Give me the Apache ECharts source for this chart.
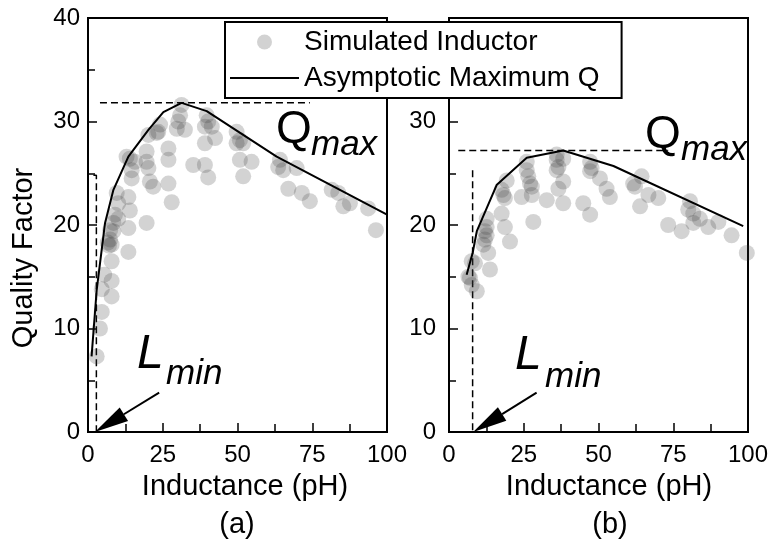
<!DOCTYPE html>
<html>
<head>
<meta charset="utf-8">
<script src="https://cdn.jsdelivr.net/npm/echarts@6/dist/echarts.min.js"></script>
<style>
  html, body { margin: 0; padding: 0; background: #fff; }
  #chart { width: 772px; height: 543px; }
</style>
</head>
<body>
<div id="chart"></div>
<script>
// Axis ranges / tick labels
const inductanceTicks = [0, 25, 50, 75, 100];
const qualityTicks = [0, 10, 20, 30, 40];

// (a) simulated inductors: [inductance pH, quality factor]
const simulatedA = [
  [2.9, 7.3], [4.0, 10.0], [4.6, 11.6], [4.6, 13.8], [7.9, 13.1], [5.4, 15.2],
  [7.9, 14.6], [7.9, 16.5], [6.6, 18.3], [7.0, 18.0], [7.4, 18.6], [7.9, 18.1],
  [7.4, 19.5], [8.5, 19.4], [8.5, 20.2], [9.0, 21.0], [10.1, 20.6], [10.1, 22.1],
  [9.6, 23.1], [13.5, 17.4], [13.5, 19.7], [14.0, 21.4], [13.5, 22.7], [14.6, 24.5],
  [14.6, 25.3], [14.0, 26.4], [15.7, 26.1], [12.9, 26.6], [19.6, 20.2], [19.6, 26.1],
  [20.2, 25.5], [20.7, 24.2], [21.8, 23.7], [19.6, 27.1], [20.2, 28.7], [23.0, 28.9],
  [23.5, 29.0], [24.1, 29.7], [26.9, 27.4], [26.9, 26.3], [26.9, 24.0], [28.0, 22.2],
  [31.3, 31.6], [30.8, 30.6], [30.2, 30.0], [29.7, 29.3], [32.4, 29.2], [35.2, 25.8],
  [39.1, 25.8], [40.2, 24.6], [39.7, 30.6], [40.2, 30.0], [39.1, 29.5], [41.4, 29.5],
  [42.5, 28.4], [39.1, 27.9], [49.7, 29.0], [50.8, 28.2], [51.9, 27.9], [49.7, 27.9],
  [50.8, 26.3], [54.7, 26.1], [51.9, 24.7], [64.2, 26.3], [63.6, 25.6], [65.3, 25.3],
  [69.8, 25.5], [67.0, 23.5], [71.5, 23.1], [74.2, 22.3], [81.5, 23.4], [83.7, 23.1],
  [85.4, 21.8], [87.6, 22.1], [93.7, 21.6], [96.3, 19.5], [100.3, 18.1]
];
// (a) asymptotic maximum Q envelope
const envelopeA = [
  [1.2, 7.3], [2.9, 13.7], [5.7, 20.2], [8.5, 23.4], [13.5, 26.6], [20.2, 29.2],
  [25.2, 30.9], [31.3, 31.8], [39.7, 31.0], [63.1, 26.6], [100, 21.0]
];
const qmaxA = 31.8;
const lminA = 2.8;

// (b) simulated inductors
const simulatedB = [
  [6.5, 15.0], [7.0, 14.9], [7.6, 16.5], [8.7, 16.3], [7.6, 14.2], [9.3, 13.6],
  [11.5, 18.1], [12.0, 18.6], [12.0, 19.4], [12.6, 19.0], [12.6, 19.8], [12.6, 20.6],
  [13.1, 17.3], [13.7, 15.7], [17.6, 21.1], [18.7, 19.8], [20.4, 18.4], [18.2, 22.9],
  [18.7, 22.6], [17.6, 23.4], [19.3, 24.3], [24.3, 22.7], [26.0, 26.1], [26.0, 25.3],
  [26.5, 24.7], [27.1, 24.0], [27.7, 23.7], [27.7, 22.9], [28.2, 20.3], [32.7, 22.4],
  [36.0, 26.8], [38.2, 26.4], [36.0, 26.3], [36.6, 25.6], [36.0, 25.3], [38.2, 24.2],
  [36.6, 23.5], [38.2, 22.1], [47.2, 26.1], [47.7, 25.5], [47.2, 25.2], [50.5, 24.5],
  [52.7, 23.5], [53.8, 22.7], [44.9, 22.1], [47.2, 21.0], [61.6, 24.0], [62.2, 23.7],
  [64.4, 24.7], [66.7, 22.9], [70.0, 22.6], [63.9, 21.8], [73.3, 20.0], [77.8, 19.4],
  [80.6, 22.3], [80.0, 21.5], [81.7, 21.1], [81.7, 20.2], [83.9, 20.6], [86.7, 19.8],
  [90.1, 20.3], [94.5, 19.0], [99.6, 17.3]
];
// (b) asymptotic maximum Q envelope
const envelopeB = [
  [5.9, 15.2], [7.9, 17.3], [9.3, 19.4], [16.0, 23.9], [26.0, 26.5], [38.2, 27.2],
  [55.0, 25.7], [98.4, 19.9]
];
const qmaxB = 27.2;
const lminB = 7.9;

// guide lines: [from, to] in data units
const qmaxGuideA = [[4.0, qmaxA], [74.2, qmaxA]];
const lminGuideA = [[1.8, 24.8], [lminA, 24.8], [lminA, 0]];
const qmaxGuideB = [[3.1, qmaxB], [73.3, qmaxB]];
const lminGuideB = [[lminB, 25.3], [lminB, 0]];
// arrows: [tailX, tailY, tipX, tipY]
const arrowA = [[23.8, 3.8, 2.3, 0]];
const arrowB = [[29.3, 3.8, 8.1, 0]];

const FONT = '"Liberation Sans", Arial, Helvetica, sans-serif';
const BLACK = '#000';
const DOT_COLOR = 'rgba(60,60,60,0.28)';

function renderArrow(params, api) {
  const tail = api.coord([api.value(0), api.value(1)]);
  const tip = api.coord([api.value(2), api.value(3)]);
  const dx = tip[0] - tail[0], dy = tip[1] - tail[1];
  const len = Math.hypot(dx, dy);
  const ux = dx / len, uy = dy / len;
  const headLen = 34, headHalf = 8;
  const base = [tip[0] - ux * headLen, tip[1] - uy * headLen];
  const nx = -uy, ny = ux;
  return {
    type: 'group',
    children: [
      { type: 'line', shape: { x1: tail[0], y1: tail[1], x2: base[0], y2: base[1] },
        style: { stroke: BLACK, lineWidth: 2 } },
      { type: 'polygon', shape: { points: [
          tip,
          [base[0] + nx * headHalf, base[1] + ny * headHalf],
          [base[0] - nx * headHalf, base[1] - ny * headHalf]
        ] }, style: { fill: BLACK } }
    ]
  };
}

function xAxisFor(idx, padLeft) {
  return {
    type: 'value', gridIndex: idx,
    min: inductanceTicks[0], max: inductanceTicks[inductanceTicks.length - 1],
    interval: inductanceTicks[1] - inductanceTicks[0],
    axisLine: { show: true, onZero: false, lineStyle: { color: BLACK, width: 2 } },
    axisTick: { show: true, inside: true, length: 9, lineStyle: { color: BLACK, width: 1.5 } },
    minorTick: { show: true, splitNumber: 2, length: 8, lineStyle: { color: BLACK, width: 1.5 } },
    splitLine: { show: false },
    axisLabel: { color: BLACK, fontSize: 24, fontFamily: FONT, margin: 11 },
    name: 'Inductance (pH)', nameLocation: 'middle', nameGap: 40,
    nameTextStyle: { color: BLACK, fontSize: 29, fontFamily: FONT, padding: [0, 0, 0, padLeft] }
  };
}

function yAxisFor(idx, margin, hideTop) {
  const top = qualityTicks[qualityTicks.length - 1];
  return {
    type: 'value', gridIndex: idx,
    min: qualityTicks[0], max: top,
    interval: qualityTicks[1] - qualityTicks[0],
    axisLine: { show: true, onZero: false, lineStyle: { color: BLACK, width: 2 } },
    axisTick: { show: true, inside: true, length: 9, lineStyle: { color: BLACK, width: 1.5 } },
    minorTick: { show: true, splitNumber: 2, length: 7, lineStyle: { color: BLACK, width: 1.5 } },
    splitLine: { show: false },
    axisLabel: {
      color: BLACK, fontSize: 24, fontFamily: FONT, margin: margin,
      formatter: v => (hideTop && v === top) ? '' : String(v)
    }
  };
}

function panelSeries(idx, sim, env, qGuide, lGuide, arrow) {
  const dashed = { color: BLACK, width: 1.5, type: [7, 4] };
  return [
    { type: 'line', name: 'qmax-guide-' + idx, xAxisIndex: idx, yAxisIndex: idx,
      data: qGuide, symbol: 'none', lineStyle: dashed, silent: true, z: 1 },
    { type: 'line', name: 'lmin-guide-' + idx, xAxisIndex: idx, yAxisIndex: idx,
      data: lGuide, symbol: 'none', lineStyle: dashed, silent: true, z: 1 },
    { type: 'scatter', name: 'Simulated Inductor', xAxisIndex: idx, yAxisIndex: idx,
      data: sim, symbol: 'circle', symbolSize: 16, clip: true,
      itemStyle: { color: DOT_COLOR }, z: 2 },
    { type: 'line', name: 'Asymptotic Maximum Q', xAxisIndex: idx, yAxisIndex: idx,
      data: env, symbol: 'none', showSymbol: false, color: BLACK,
      lineStyle: { color: BLACK, width: 2 }, itemStyle: { color: BLACK }, z: 3 },
    { type: 'custom', name: 'arrow-' + idx, xAxisIndex: idx, yAxisIndex: idx,
      data: arrow, renderItem: renderArrow, clip: false, silent: true, z: 3,
      encode: { x: [0, 2], y: [1, 3] } }
  ];
}

function label(x, y, text, size, italic) {
  return { type: 'text', x: x, y: y, z: 10,
    style: { text: text, fill: BLACK, fontSize: size, fontFamily: FONT,
      fontStyle: italic ? 'italic' : 'normal', align: 'left', verticalAlign: 'top' } };
}

const chart = echarts.init(document.getElementById('chart'), null, { renderer: 'canvas' });
chart.setOption({
  animation: false,
  backgroundColor: '#fff',
  grid: [
    { left: 88, top: 18, width: 299, height: 414, show: true, borderColor: BLACK, borderWidth: 2, backgroundColor: 'transparent' },
    { left: 449, top: 18, width: 299, height: 414, show: true, borderColor: BLACK, borderWidth: 2, backgroundColor: 'transparent' }
  ],
  xAxis: [xAxisFor(0, 15), xAxisFor(1, 21)],
  yAxis: [yAxisFor(0, 8, false), yAxisFor(1, 13, true)],
  legend: {
    data: [
      { name: 'Simulated Inductor', icon: 'circle', itemStyle: { color: 'rgba(0,0,0,0.22)' } },
      { name: 'Asymptotic Maximum Q', icon: 'path://M0,0H66V2H0Z', itemStyle: { color: BLACK } }
    ],
    orient: 'vertical', left: 225, top: 22,
    padding: [5, 22, 5, 5],
    itemWidth: 69, itemHeight: 15, itemGap: 6,
    symbolKeepAspect: true,
    backgroundColor: '#fff', borderColor: BLACK, borderWidth: 2, borderRadius: 0,
    selectedMode: false,
    textStyle: { color: BLACK, fontSize: 28, fontFamily: FONT, lineHeight: 30 }
  },
  graphic: [
    { type: 'text', x: 24, y: 258, rotation: Math.PI / 2, z: 10,
      style: { text: 'Quality Factor', fill: BLACK, fontSize: 29, fontFamily: FONT,
        align: 'center', verticalAlign: 'middle' } },
    { type: 'text', x: 237, y: 525, z: 10,
      style: { text: '(a)', fill: BLACK, fontSize: 29, fontFamily: FONT, align: 'center', verticalAlign: 'middle' } },
    { type: 'text', x: 610, y: 525, z: 10,
      style: { text: '(b)', fill: BLACK, fontSize: 29, fontFamily: FONT, align: 'center', verticalAlign: 'middle' } },
    label(276, 107, 'Q', 46, false),
    label(311, 128, 'max', 35, true),
    label(645, 112, 'Q', 46, false),
    label(681, 133, 'max', 35, true),
    label(137, 331, 'L', 48, true),
    label(166, 357, 'min', 35, true),
    label(515, 332, 'L', 48, true),
    label(545, 360, 'min', 35, true)
  ],
  series: [
    ...panelSeries(0, simulatedA, envelopeA, qmaxGuideA, lminGuideA, arrowA),
    ...panelSeries(1, simulatedB, envelopeB, qmaxGuideB, lminGuideB, arrowB)
  ]
});
</script>
</body>
</html>
